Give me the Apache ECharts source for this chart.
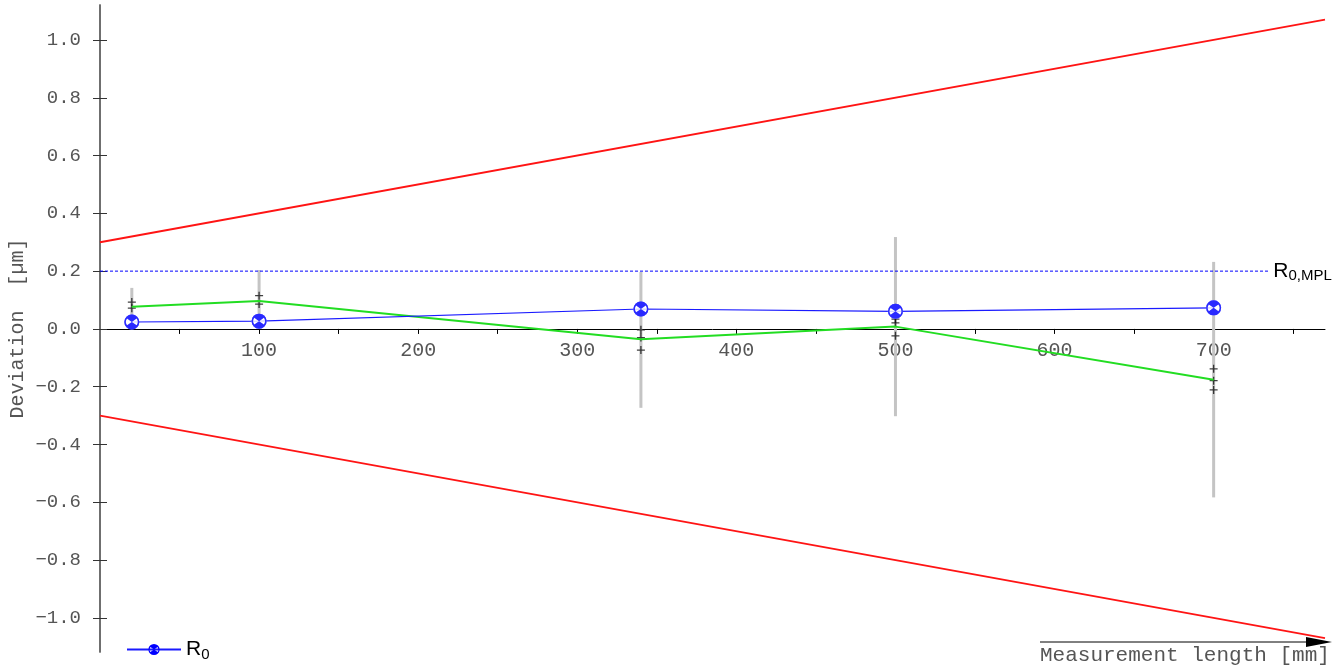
<!DOCTYPE html>
<html>
<head>
<meta charset="utf-8">
<title>Deviation</title>
<script src="https://cdn.jsdelivr.net/npm/echarts@6/dist/echarts.min.js"></script>
<style>
  html, body { margin: 0; padding: 0; background: #fff; }
  #chart { width: 1343px; height: 670px; }
</style>
</head>
<body>
<div id="chart"></div>
<script>
// measurement positions [mm]
const measX = [20, 100, 340, 500, 700]
// mean deviation R0 [um]
const r0Values = [0.024, 0.027, 0.069, 0.061, 0.073]
// second (green) deviation curve
const greenValues = [0.077, 0.097, -0.036, 0.008, -0.176]
// grey range bars, low / high
const rangeLow = [0.03, 0.03, -0.273, -0.302, -0.583]
const rangeHigh = [0.142, 0.204, 0.197, 0.318, 0.232]
// single readings (+)
const singleX = [20, 20, 100, 100, 340, 340, 340, 500, 500, 500, 700, 700, 700]
const singleY = [0.093, 0.072, 0.115, 0.086, -0.003, -0.03, -0.073, 0.034, 0.021, -0.024, -0.138, -0.179, -0.211]
// MPE limit lines
const limitX = [0, 770]
const upperLimit = [0.3, 1.07]
const lowerLimit = [-0.3, -1.07]
// R0,MPL line
const mplX = [0, 735]
const mplY = [0.2, 0.2]
// axis ticks
const yTicks = [-1.0, -0.8, -0.6, -0.4, -0.2, 0.0, 0.2, 0.4, 0.6, 0.8, 1.0]
const xLabels = [100, 200, 300, 400, 500, 600, 700]
const xTicks = [50, 100, 150, 200, 250, 300, 350, 400, 450, 500, 550, 600, 650, 700, 750]

const yMin = -1.118
const yMax = 1.121
const gridTop = 5
const gridBottom = 18
const gridHeight = 670 - gridTop - gridBottom
// x axis sits on the zero line, move it up from the grid bottom
const xAxisOffset = -gridHeight * (0 - yMin) / (yMax - yMin)

const mono = 'Liberation Mono'
const sans = 'Liberation Sans'
const labelGrey = '#555'

// blue disc with two white "ears" cut out left and right
const markerPath = 'path://M10 0A10 10 0 0 1 20 10A10 10 0 0 1 10 20A10 10 0 0 1 0 10A10 10 0 0 1 10 0Z' +
  'M10 10L3.6 5.5A7.8 7.8 0 0 0 3.6 14.5Z' +
  'M10 10L16.4 14.5A7.8 7.8 0 0 0 16.4 5.5Z'
const plusPath = 'path://M0 5L10 5M5 0L5 10'

const subRich = {
  r: { fontFamily: sans, fontSize: 21, color: '#000', lineHeight: 22 },
  s: { fontFamily: sans, fontSize: 15, color: '#000', lineHeight: 14, padding: [10, 0, 0, 0] }
}

const pair = (xs, ys) => xs.map((x, i) => [x, ys[i]])

const chart = echarts.init(document.getElementById('chart'))
chart.setOption({
  animation: false,
  grid: { left: 100, right: 18, top: gridTop, bottom: gridBottom, outerBoundsMode: 'none' },
  legend: {
    left: 121,
    top: 632,
    itemWidth: 54,
    itemHeight: 14,
    itemGap: 4,
    data: ['R0'],
    formatter: () => '{r|R}{s|0}',
    textStyle: { rich: subRich }
  },
  xAxis: {
    type: 'value',
    min: 0,
    max: 770,
    offset: xAxisOffset,
    axisLine: { onZero: false, lineStyle: { color: '#000', width: 1 } },
    axisTick: { length: 5, lineStyle: { color: '#000' }, customValues: xTicks },
    axisLabel: {
      customValues: xLabels,
      margin: 12,
      fontFamily: mono,
      fontSize: 20,
      color: labelGrey
    },
    splitLine: { show: false }
  },
  yAxis: [
    {
      type: 'value',
      min: yMin,
      max: yMax,
      name: 'Deviation  [µm]',
      nameLocation: 'middle',
      nameGap: 72,
      nameMoveOverlap: false,
      nameTextStyle: { fontFamily: mono, fontSize: 20, color: labelGrey },
      axisLine: { show: true, onZero: false, lineStyle: { color: '#666', width: 1.5 } },
      axisTick: { show: true, length: 7, lineStyle: { color: '#333' }, customValues: yTicks },
      axisLabel: {
        customValues: yTicks,
        margin: 19,
        fontFamily: mono,
        fontSize: 19,
        color: labelGrey,
        formatter: v => v.toFixed(1).replace('-', '\u2212')
      },
      splitLine: { show: false }
    },
    {
      // inner half of the crossing ticks
      type: 'value',
      min: yMin,
      max: yMax,
      position: 'left',
      offset: 0,
      axisLine: { show: true, onZero: false, lineStyle: { color: '#666', width: 1.5 } },
      axisTick: { show: true, inside: true, length: 7, lineStyle: { color: '#333' }, customValues: yTicks },
      axisLabel: { show: false },
      splitLine: { show: false }
    }
  ],
  graphic: [
    {
      type: 'line',
      shape: { x1: 1040, y1: 642, x2: 1312, y2: 642 },
      style: { stroke: '#000', lineWidth: 1 }
    },
    {
      type: 'polygon',
      shape: { points: [[1306, 637], [1332, 642], [1306, 647]] },
      style: { fill: '#000' }
    },
    {
      type: 'text',
      left: 1040,
      top: 645,
      style: { text: 'Measurement length [mm]', font: '21px "Liberation Mono"', fill: labelGrey }
    }
  ],
  series: [
    {
      name: 'upper',
      type: 'line',
      data: pair(limitX, upperLimit),
      showSymbol: false,
      lineStyle: { color: '#ff1414', width: 1.8 },
      silent: true
    },
    {
      name: 'lower',
      type: 'line',
      data: pair(limitX, lowerLimit),
      showSymbol: false,
      lineStyle: { color: '#ff1414', width: 1.8 },
      silent: true
    },
    {
      name: 'R0,MPL',
      type: 'line',
      data: pair(mplX, mplY),
      showSymbol: false,
      lineStyle: { color: '#0000ff', width: 1, type: [3, 2] },
      endLabel: {
        show: true,
        distance: 4,
        formatter: () => '{r|R}{s|0,MPL}',
        rich: subRich
      }
    },
    {
      name: 'range',
      type: 'custom',
      data: measX.map((x, i) => [x, rangeLow[i], rangeHigh[i]]),
      renderItem: (params, api) => {
        const a = api.coord([api.value(0), api.value(1)])
        const b = api.coord([api.value(0), api.value(2)])
        return {
          type: 'line',
          shape: { x1: a[0], y1: a[1], x2: b[0], y2: b[1] },
          style: { stroke: '#c4c4c4', lineWidth: 3 }
        }
      }
    },
    {
      name: 'green',
      type: 'line',
      data: pair(measX, greenValues),
      showSymbol: false,
      lineStyle: { color: '#22dd22', width: 2 }
    },
    {
      name: 'single',
      type: 'scatter',
      data: pair(singleX, singleY),
      symbol: plusPath,
      symbolSize: 8,
      itemStyle: { color: 'none', borderColor: '#111', borderWidth: 1.3 }
    },
    {
      name: 'R0',
      type: 'line',
      data: pair(measX, r0Values),
      symbol: markerPath,
      symbolSize: 15,
      itemStyle: { color: '#0000ff' },
      lineStyle: { color: '#1a1aff', width: 1.2 }
    },
    {
      // white disc under the markers so the line does not show through
      name: 'bg',
      type: 'scatter',
      data: pair(measX, r0Values),
      symbol: 'circle',
      symbolSize: 15,
      itemStyle: { color: '#fff' },
      z: 4
    },
    {
      name: 'marks',
      type: 'scatter',
      data: pair(measX, r0Values),
      symbol: markerPath,
      symbolSize: 15,
      itemStyle: { color: '#0000ff' },
      z: 5
    }
  ]
})
</script>
</body>
</html>
